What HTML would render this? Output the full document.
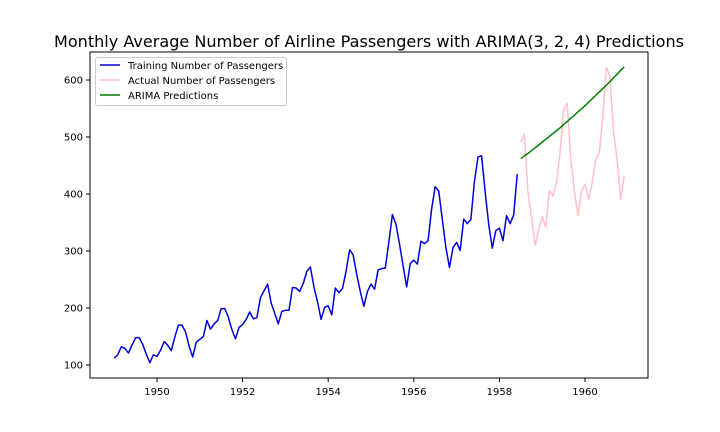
<!DOCTYPE html>
<html><head><meta charset="utf-8"><style>
html,body{margin:0;padding:0;background:#fff;}
svg{display:block;font-family:"DejaVu Sans","Liberation Sans",sans-serif;}
</style></head><body>
<svg id="chart" width="720" height="432">
<rect x="0" y="0" width="720" height="432" fill="#fff"/>
<text x="54" y="47" font-size="16" textLength="630" lengthAdjust="spacingAndGlyphs" fill="#000">Monthly Average Number of Airline Passengers with ARIMA(3, 2, 4) Predictions</text>
<g id="axes"></g>
<g id="series"></g>
<rect x="90" y="52" width="558" height="326" fill="none" stroke="#000" stroke-width="1"/>
<g>
<rect x="95.5" y="57.5" width="191" height="48" rx="2" fill="#fff" stroke="#ccc"/>
<line x1="100" y1="65" x2="120" y2="65" stroke="#0000dd" stroke-width="1.5"/>
<text x="128" y="69" font-size="10">Training Number of Passengers</text>
<line x1="100" y1="80" x2="120" y2="80" stroke="#ffc0cb" stroke-width="1.5"/>
<text x="128" y="84" font-size="10">Actual Number of Passengers</text>
<line x1="100" y1="95" x2="120" y2="95" stroke="#008000" stroke-width="1.5"/>
<text x="128" y="99" font-size="10">ARIMA Predictions</text>
</g>
</svg>
<script>
const trainValues=[112,118,132,129,121,135,148,148,136,119,104,118,
115,126,141,135,125,149,170,170,158,133,114,140,
145,150,178,163,172,178,199,199,184,162,146,166,
171,180,193,181,183,218,230,242,209,191,172,194,
196,196,236,235,229,243,264,272,237,211,180,201,
204,188,235,227,234,264,302,293,259,229,203,229,
242,233,267,269,270,315,364,347,312,274,237,278,
284,277,317,313,318,374,413,405,355,306,271,306,
315,301,356,348,355,422,465,467,404,347,305,336,
340,318,362,348,363,435];
const testValues=[491,505,404,359,310,337,360,342,406,396,420,472,548,559,463,407,362,405,417,391,419,461,472,535,622,606,508,461,390,432];
const predValues=[462,467,471,476,481,486,491,496,501,506,511,516,522,527,533,538,544,549,555,561,567,573,579,585,591,597,604,610,617,623];
const xTicks=[1950,1952,1954,1956,1958,1960];
const yTicks=[100,200,300,400,500,600];
const startYear=1949;

const NS="http://www.w3.org/2000/svg";
function xs(t){return 157+(t-1950)*42.8;}
function ys(v){return 365-(v-100)*0.57;}
const axes=document.getElementById('axes'), series=document.getElementById('series');
function mk(tag,attrs,parent){const e=document.createElementNS(NS,tag);for(const k in attrs)e.setAttribute(k,attrs[k]);parent.appendChild(e);return e;}
xTicks.forEach(t=>{
  const l=mk('line',{x1:xs(t),x2:xs(t),y1:378,y2:382,stroke:'#000'},axes);
  
  
  const tx=mk('text',{x:xs(t),y:395,'text-anchor':'middle','font-size':'10'},axes);tx.textContent=t;
  
  
});
yTicks.forEach(v=>{
  const l=mk('line',{x1:86,x2:90,y1:ys(v),y2:ys(v),stroke:'#000'},axes);
  
  
  const tx=mk('text',{x:83,y:ys(v)+3.5,'text-anchor':'end','font-size':'10'},axes);tx.textContent=v;
  
  
});
function line(vals,offset,color,name){
  const pts=vals.map((v,i)=>xs(startYear+(offset+i)/12).toFixed(2)+','+ys(v).toFixed(2)).join(' ');
  const p=mk('polyline',{points:pts,fill:'none',stroke:color,'stroke-width':1.5,'stroke-linejoin':'round'},series);
  
  
}
line(trainValues,0,'#0000dd','training-line');
line(testValues,trainValues.length,'#ffc0cb','actual-line');
line(predValues,trainValues.length,'#008000','arima-prediction-line');
</script>
</body></html>
